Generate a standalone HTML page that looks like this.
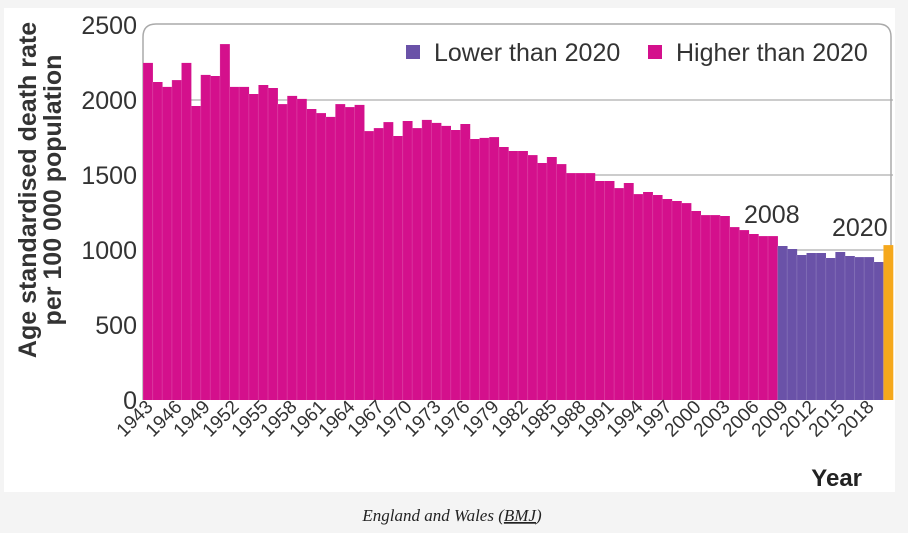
<!DOCTYPE html>
<html><head><meta charset="utf-8"><style>
html,body{margin:0;padding:0;background:#f4f4f4;}
svg{display:block;font-family:"Liberation Sans",sans-serif;}
</style></head><body>
<svg id="s" width="908" height="533" viewBox="0 0 908 533" xmlns="http://www.w3.org/2000/svg">
<rect x="4" y="8" width="891" height="484" fill="#fff"/>
<g stroke="#bbb" stroke-width="1.5">
<line x1="143" y1="100" x2="893" y2="100"/>
<line x1="143" y1="175" x2="893" y2="175"/>
<line x1="143" y1="250" x2="893" y2="250"/>
<line x1="143" y1="325" x2="893" y2="325"/>
</g>
<path d="M143,400 V37 Q143,24 156,24 H878 Q891,24 891,37 V400" fill="none" stroke="#aaa" stroke-width="1.5"/>
<g id="bars"></g>
<g font-size="25" fill="#333" text-anchor="end">
<text x="137" y="34">2500</text>
<text x="137" y="109">2000</text>
<text x="137" y="184">1500</text>
<text x="137" y="259">1000</text>
<text x="137" y="334">500</text>
<text x="137" y="409">0</text>
</g>
<g font-size="25" font-weight="bold" fill="#333" text-anchor="middle">
<text transform="translate(36,190) rotate(-90)">Age standardised death rate</text>
<text transform="translate(61,190) rotate(-90)">per 100 000 population</text>
</g>
<rect x="406" y="45" width="14" height="14" fill="#6a52a8"/>
<text x="434" y="61" font-size="25" fill="#333">Lower than 2020</text>
<rect x="648" y="45" width="14" height="14" fill="#d4108c"/>
<text x="676" y="61" font-size="25" fill="#333">Higher than 2020</text>
<text x="744" y="223" font-size="25" fill="#333">2008</text>
<text x="832" y="236" font-size="25" fill="#333">2020</text>
<g font-size="19" fill="#333" text-anchor="end">
<text transform="translate(154,408) rotate(-45)">1943</text>
<text transform="translate(183,408) rotate(-45)">1946</text>
<text transform="translate(211,408) rotate(-45)">1949</text>
<text transform="translate(240,408) rotate(-45)">1952</text>
<text transform="translate(269,408) rotate(-45)">1955</text>
<text transform="translate(298,408) rotate(-45)">1958</text>
<text transform="translate(327,408) rotate(-45)">1961</text>
<text transform="translate(356,408) rotate(-45)">1964</text>
<text transform="translate(385,408) rotate(-45)">1967</text>
<text transform="translate(413,408) rotate(-45)">1970</text>
<text transform="translate(442,408) rotate(-45)">1973</text>
<text transform="translate(471,408) rotate(-45)">1976</text>
<text transform="translate(500,408) rotate(-45)">1979</text>
<text transform="translate(529,408) rotate(-45)">1982</text>
<text transform="translate(558,408) rotate(-45)">1985</text>
<text transform="translate(587,408) rotate(-45)">1988</text>
<text transform="translate(615,408) rotate(-45)">1991</text>
<text transform="translate(644,408) rotate(-45)">1994</text>
<text transform="translate(673,408) rotate(-45)">1997</text>
<text transform="translate(702,408) rotate(-45)">2000</text>
<text transform="translate(731,408) rotate(-45)">2003</text>
<text transform="translate(760,408) rotate(-45)">2006</text>
<text transform="translate(789,408) rotate(-45)">2009</text>
<text transform="translate(817,408) rotate(-45)">2012</text>
<text transform="translate(846,408) rotate(-45)">2015</text>
<text transform="translate(875,408) rotate(-45)">2018</text>
</g>
<text x="862" y="486" font-size="24" font-weight="bold" fill="#222" text-anchor="end">Year</text>
<text x="452" y="521" font-size="17" font-style="italic" fill="#222" text-anchor="middle" font-family="Liberation Serif, serif">England and Wales (<tspan text-decoration="underline">BMJ</tspan>)</text>
</svg>
<script>
var v=[2247,2120,2087,2133,2247,1960,2167,2160,2373,2087,2087,2040,2100,2080,1973,2027,2007,1940,1913,1887,1973,1953,1967,1793,1813,1853,1760,1860,1813,1867,1847,1827,1800,1840,1740,1747,1753,1687,1660,1660,1633,1580,1620,1573,1513,1513,1513,1460,1460,1413,1447,1373,1387,1367,1340,1327,1313,1260,1233,1233,1227,1153,1133,1107,1093,1093,1027,1007,967,980,980,947,987,960,953,953,920,1033];
var g=document.getElementById('bars'),w=750/78,h='';
for(var i=0;i<v.length;i++){var c=i==77?'#f5a81c':(i>=66?'#6a52a8':'#d4108c');var y=400-v[i]*0.15;
h+='<rect x="'+(143+i*w).toFixed(2)+'" y="'+y.toFixed(1)+'" width="'+(w+0.3).toFixed(2)+'" height="'+(400-y).toFixed(1)+'" fill="'+c+'"/>';
h+='<line x1="'+(143+i*w).toFixed(2)+'" y1="'+y.toFixed(1)+'" x2="'+(143+i*w).toFixed(2)+'" y2="400" stroke="rgba(255,255,255,0.15)" stroke-width="1"/>';}
g.innerHTML=h;
</script>
</body></html>
